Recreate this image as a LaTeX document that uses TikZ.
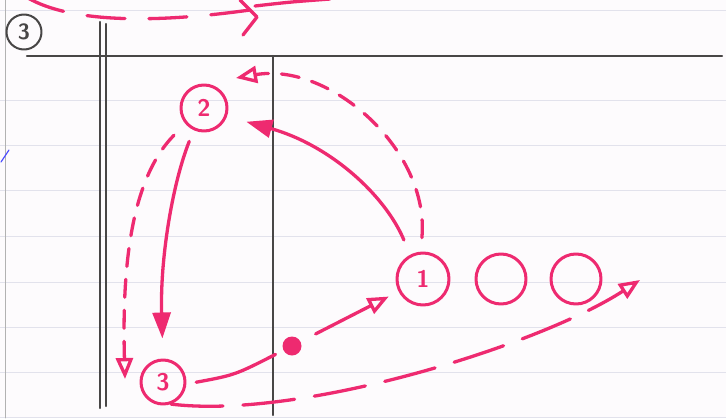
\documentclass[tikz,border=0pt]{standalone}
\usetikzlibrary{arrows.meta}
\definecolor{marker}{RGB}{238,42,112}
\definecolor{pencil}{RGB}{72,70,70}
\definecolor{ruling}{RGB}{226,226,236}
\definecolor{sheet}{RGB}{253,251,253}
\tikzset{
  pen/.style={marker,line width=3.3pt},
  shortgap/.style={pen,dash pattern=on 18pt off 13pt},
  longgap/.style={pen,dash pattern=on 52pt off 20pt},
  ring/.style={circle,draw=marker,line width=3pt,inner sep=0pt,text=marker,
    font=\fontsize{24}{24}\selectfont\sffamily\bfseries},
  fullhead/.style={-{Triangle[length=26pt,width=18pt]}},
  openhead/.style={-{Triangle[open,length=21pt,width=17pt]}},
  rule/.style={pencil,line width=2.4pt},
}

\begin{document}
\begin{tikzpicture}[x=1pt,y=-1pt,line cap=round,line join=round]
\fill[sheet] (0,0) rectangle (726,418);
\useasboundingbox (0,0) rectangle (726,418);
% ruled paper
\foreach \y in {10,100,145,190,236,282,327,372,417}
  \draw[ruling,line width=0.8pt] (0,\y) -- (726,\y);
\draw[gray!60,line width=0.9pt] (5,0) -- (5,418);
\draw[blue!70!white,line width=1.2pt] (1,162) -- (9,150);
% pencil frame
\draw[rule] (27,56) -- (722,56);
\draw[rule] (100,22) -- (100,408);
\draw[rule] (106,24) -- (106,406);
\draw[rule] (273,56) -- (273,415);
\node[circle,draw=pencil,line width=2pt,minimum size=35pt,inner sep=0pt,
  font=\fontsize{22}{22}\selectfont\sffamily\bfseries,text=pencil] (page) at (24,32) {3};

% marker nodes
\node[ring,minimum size=46pt] (n2) at (204,108) {2};
\node[ring,minimum size=52pt] (n1) at (423,279) {1};
\node[ring,minimum size=50pt] (e1) at (501,279) {};
\node[ring,minimum size=50pt] (e2) at (576,279) {};
\node[ring,minimum size=44pt] (n3) at (163,382) {3};
\node[circle,fill=marker,minimum size=19pt,inner sep=0pt,outer sep=9pt] (dot) at (292,346) {};
\coordinate (t1) at (236,78);
\coordinate (t3) at (125,379);
\coordinate (t4) at (640,280);

% moves
\draw[pen,fullhead,shorten <=16pt,shorten >=20pt] (n1.118) .. controls (385,195) and (330,145) .. (n2.-20);
\draw[shortgap,openhead,shorten <=14pt] (n1.95) .. controls (430,150) and (330,62) .. (t1);
\draw[pen,fullhead,shorten <=12pt,shorten >=20pt] (n2.-115) .. controls (172,185) and (160,260) .. (n3.north);
\draw[shortgap,openhead,shorten <=16pt] (n2.-140) .. controls (130,180) and (122,270) .. (t3);
\draw[pen,shorten <=10pt] (n3.-5) .. controls (235,375) .. (dot);
\draw[pen,openhead,shorten <=8pt,shorten >=11pt] (dot) -- (n1);
\draw[longgap,openhead] (n3.-70) .. controls (300,420) and (540,345) .. (t4);

% cut off at the top
\draw[pen,dash pattern=on 38pt off 24pt] (28,-2) .. controls (70,22) and (150,24) .. (250,10);
\draw[pen] (240,0) -- (257,17) -- (243,35);
\draw[pen] (255,6) .. controls (290,2) .. (330,-1);
\end{tikzpicture}
\end{document}
